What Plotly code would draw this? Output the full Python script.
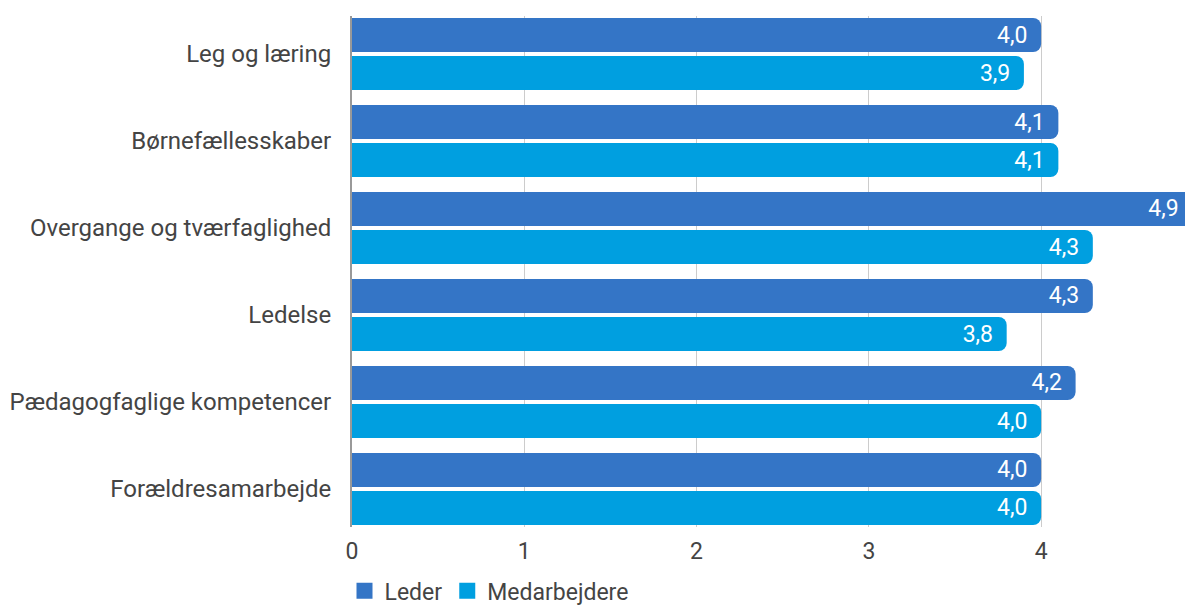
import plotly.graph_objects as go

categories = ["Leg og læring", "Børnefællesskaber", "Overgange og tværfaglighed",
              "Ledelse", "Pædagogfaglige kompetencer", "Forældresamarbejde"]
leder = [4.0, 4.1, 4.9, 4.3, 4.2, 4.0]
medarbejdere = [3.9, 4.1, 4.3, 3.8, 4.0, 4.0]
series_names = ["Leder", "Medarbejdere"]
x_ticks = [0, 1, 2, 3, 4]

colors = ["#3475C6", "#009FE0"]
x_max = 4.835

fig = go.Figure()
for name, vals, col in zip(series_names, [leder, medarbejdere], colors):
    templates = ["%{x:.1f}" + ("\u2002" if v > x_max else "\u2004") for v in vals]
    fig.add_trace(go.Bar(
        y=categories, x=vals, name=name, orientation="h",
        marker=dict(color=col, line=dict(width=0)),
        texttemplate=templates, textposition="inside", insidetextanchor="end",
        textfont=dict(color="white", size=23, family="Roboto"),
        textangle=0, showlegend=False,
    ))
    # legend proxy with a larger square symbol
    fig.add_trace(go.Scatter(
        x=[None], y=[None], mode="markers", name=name,
        marker=dict(symbol="square", size=23, color=col),
        showlegend=True,
    ))

fig.update_layout(
    width=1185, height=607,
    margin=dict(l=352, r=0, t=16, b=80, autoexpand=False),
    barmode="group", bargap=0.126, bargroupgap=0.105, barcornerradius=8,
    separators=", ",
    plot_bgcolor="white", paper_bgcolor="white",
    font=dict(family="Roboto", color="#444444", size=23),
    showlegend=True,
    legend=dict(orientation="h", x=-0.009, xanchor="left", y=-0.083, yanchor="top",
                font=dict(size=23, color="#444444"), traceorder="normal",
                itemsizing="trace"),
    uniformtext=dict(mode=False),
)
fig.update_xaxes(range=[0, x_max], tickvals=x_ticks, ticktext=[str(t) for t in x_ticks],
                 showgrid=True, gridcolor="#CCCCCC", gridwidth=1, zeroline=False,
                 showline=False, ticks="", tickfont=dict(size=23, color="#444444"),
                 ticklabelstandoff=8, automargin=False)
fig.update_yaxes(range=[5.437, -0.437], showgrid=False, showline=True, linecolor="#999999",
                 linewidth=2, ticks="", tickfont=dict(size=24, color="#444444"),
                 ticklabelstandoff=14, automargin=False)

fig.write_html("out.html", config={"displayModeBar": False},
               post_script="document.body.style.margin='0';document.body.style.overflow='hidden';")
